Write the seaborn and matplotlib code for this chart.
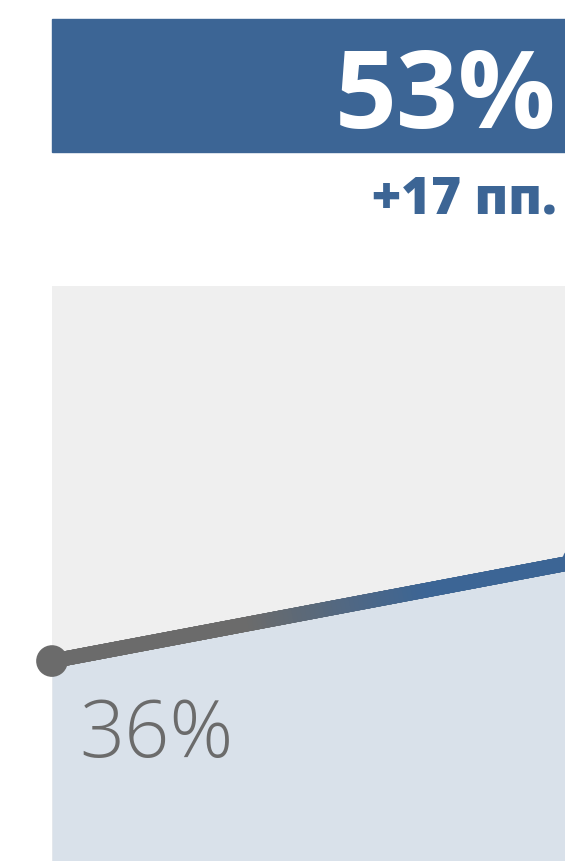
import numpy as np
import pandas as pd
import matplotlib.pyplot as plt
import seaborn as sns
from matplotlib.collections import LineCollection
from matplotlib.colors import to_rgb
from matplotlib.patches import Rectangle

# Data
periods = [0, 1]
values = [36, 53]
start_label = "36%"
end_label = "53%"
change_label = "+17 пп."

GREY = "#6b6b6b"
BLUE = "#3c6595"
PANEL = "#efefef"
FILL = "#d9e1ea"

sns.set_style("white")
plt.rcParams["font.family"] = ["Open Sans", "DejaVu Sans"]

W, H = 565, 862
fig = plt.figure(figsize=(W / 100, H / 100), dpi=100)

# Banner
fig.patches.append(Rectangle((52 / W, 1 - 153 / H), 1, 133 / H,
                             transform=fig.transFigure, color=BLUE, zorder=0))
fig.text(556 / W, 1 - 128 / H, end_label, color="white", fontsize=78,
         fontweight="bold", ha="right", va="baseline")
fig.text(557 / W, 1 - 213 / H, change_label, color=BLUE, fontsize=37,
         fontweight="heavy", ha="right", va="baseline")

# Chart panel (extends slightly beyond the crop)
ax = fig.add_axes([52 / W, -11 / H, 526 / W, 586 / H])
ax.set_facecolor(PANEL)
ax.set_xlim(0, 1)
ax.set_ylim(0, 100)
for s in ax.spines.values():
    s.set_visible(False)
ax.set_xticks([])
ax.set_yticks([])

df = pd.DataFrame({"x": periods, "y": values})
ax.fill_between(df["x"], df["y"], 0, color=FILL, lw=0, zorder=1)

# base line, then gradient grey -> blue on top
sns.lineplot(data=df, x="x", y="y", color=GREY, lw=10.5, ax=ax, zorder=2)
xs = np.linspace(df["x"].iloc[0], df["x"].iloc[-1], 120)
ys = np.interp(xs, df["x"], df["y"])
pts = np.column_stack([xs, ys]).reshape(-1, 1, 2)
segs = np.concatenate([pts[:-1], pts[1:]], axis=1)
t = np.clip((xs[:-1] - 0.38) / (0.72 - 0.38), 0, 1)
g, b = np.array(to_rgb(GREY)), np.array(to_rgb(BLUE))
cols = [g * (1 - v) + b * v for v in t]
lc = LineCollection(segs, colors=cols, linewidths=10.5, capstyle="projecting",
                    antialiased=True, zorder=3)
ax.add_collection(lc)

sns.scatterplot(data=df, x="x", y="y", hue="x", palette=[GREY, BLUE],
                s=520, edgecolor="none", legend=False, ax=ax, zorder=4, clip_on=False)
ax.set_xlabel("")
ax.set_ylabel("")

fig.text(79 / W, 1 - 757 / H, start_label, color=GREY, fontsize=57,
         fontweight="light", ha="left", va="baseline")

fig.savefig("out.png", dpi=100)
